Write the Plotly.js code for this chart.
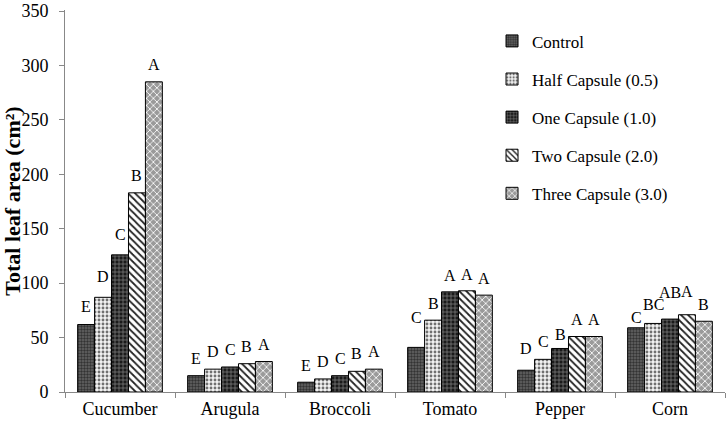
<!DOCTYPE html>
<html>
<head>
<meta charset="utf-8">
<script src="https://cdn.plot.ly/plotly-3.0.1.min.js"></script>
<style>
  html, body { margin: 0; padding: 0; background: #fff; }
  #chart { width: 726px; height: 423px; }
</style>
</head>
<body>
<div id="chart"></div>
<script>
// total leaf area per crop and capsule dose

var crops = ['Cucumber', 'Arugula', 'Broccoli', 'Tomato', 'Pepper', 'Corn'];

var seriesNames = ['Control', 'Half Capsule (0.5)', 'One Capsule (1.0)', 'Two Capsule (2.0)', 'Three Capsule (3.0)'];

var control = [62, 15, 9, 41, 20, 59];
var halfCapsule = [87, 21, 12, 66, 30, 63];
var oneCapsule = [126, 23, 15, 92, 40, 67];
var twoCapsule = [183, 26, 19, 93, 51, 71];
var threeCapsule = [285, 28, 21, 89, 51, 65];

// mean separation letters
var lettersControl = ['E', 'E', 'E', 'C', 'D', 'C'];
var lettersHalf = ['D', 'D', 'D', 'B', 'C', 'BC'];
var lettersOne = ['C', 'C', 'C', 'A', 'B', 'AB'];
var lettersTwo = ['B', 'B', 'B', 'A', 'A', 'A'];
var lettersThree = ['A', 'A', 'A', 'A', 'A', 'B'];

var yTicks = [0, 50, 100, 150, 200, 250, 300, 350];

var values = [control, halfCapsule, oneCapsule, twoCapsule, threeCapsule];
var letters = [lettersControl, lettersHalf, lettersOne, lettersTwo, lettersThree];

// gap in px between bar top and letter (labels were nudged by hand in the original)
var labelGap = [
  [12, 11, 10, 23, 15, 4],
  [14, 11, 11, 10, 11, 12],
  [14, 11, 11, 10, 7, 20],
  [11, 11, 11, 10, 11, 17],
  [11, 11, 11, 10, 11, 10]
];

var serif = 'Liberation Serif';
var bargap = 0.23;

// look of each dose
var looks = [
  { bg: '#666666', fg: '#333333', shape: '.', size: 3, solidity: 0.5 },
  { bg: '#f2f2f2', fg: '#707070', shape: '.', size: 4, solidity: 0.4 },
  { bg: '#1a1a1a', fg: '#8a8a8a', shape: '+', size: 4, solidity: 0.3 },
  { bg: '#ffffff', fg: '#222222', shape: '\\', size: 5, solidity: 0.35 },
  { bg: '#9a9a9a', fg: '#ffffff', shape: 'x', size: 5, solidity: 0.3 }
];

var data = [];
var annotations = [];
var barW = (1 - bargap) / values.length;
for (var i = 0; i < values.length; i++) {
  data.push({
    type: 'bar',
    name: seriesNames[i],
    legendgroup: 'g' + i,
    x: crops,
    y: values[i],
    hoverinfo: 'x+y+name',
    marker: {
      color: looks[i].bg,
      line: { color: '#000', width: 1 },
      pattern: {
        shape: looks[i].shape,
        bgcolor: looks[i].bg,
        fgcolor: looks[i].fg,
        size: looks[i].size,
        solidity: looks[i].solidity,
        fillmode: 'replace'
      }
    }
  });
  for (var j = 0; j < crops.length; j++) {
    annotations.push({
      x: j + (i - (values.length - 1) / 2) * barW,
      y: values[i][j],
      xref: 'x',
      yref: 'y',
      text: letters[i][j],
      showarrow: false,
      yanchor: 'bottom',
      yshift: labelGap[i][j] - 4,
      font: { family: serif, size: 16, color: '#000' }
    });
  }
}

var layout = {
  width: 726,
  height: 423,
  margin: { l: 65, r: 1, t: 10, b: 31 },
  paper_bgcolor: '#fff',
  plot_bgcolor: '#fff',
  font: { family: serif, size: 16, color: '#000' },
  barmode: 'group',
  bargap: bargap,
  bargroupgap: 0,
  annotations: annotations,
  xaxis: {
    type: 'category',
    showline: true,
    linecolor: '#888',
    linewidth: 1,
    ticks: 'outside',
    tickson: 'boundaries',
    ticklen: 5,
    tickcolor: '#888',
    showgrid: false,
    zeroline: false,
    tickfont: { family: serif, size: 18, color: '#000' }
  },
  yaxis: {
    range: [0, 351],
    tickvals: yTicks,
    ticklabeloverflow: 'allow',
    ticklabelstandoff: 7,
    showline: true,
    linecolor: '#888',
    linewidth: 1,
    ticks: 'outside',
    ticklen: 5,
    tickcolor: '#888',
    showgrid: false,
    zeroline: false,
    tickfont: { family: serif, size: 18, color: '#000' },
    title: {
      text: '<b>Total leaf area (cm²)</b>',
      font: { family: serif, size: 22, color: '#000' },
      standoff: 4
    }
  },
  legend: {
    x: 0.647,
    y: 0.965,
    xanchor: 'left',
    yanchor: 'top',
    bgcolor: 'rgba(0,0,0,0)',
    traceorder: 'grouped',
    tracegroupgap: 13,
    itemwidth: 30,
    font: { family: serif, size: 17, color: '#000' }
  },
  showlegend: true
};

Plotly.newPlot('chart', data, layout, { displayModeBar: false });
</script>
</body>
</html>
